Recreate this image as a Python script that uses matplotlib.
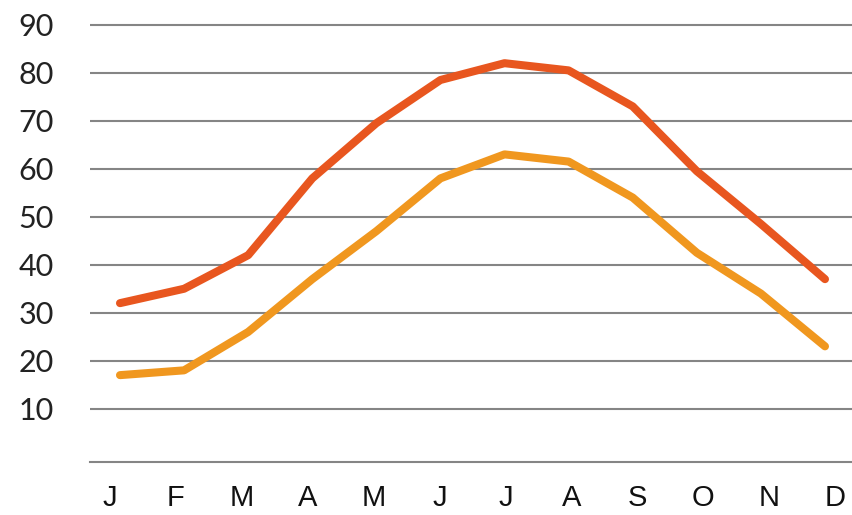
import matplotlib
matplotlib.use("Agg")
import matplotlib.pyplot as plt

months = ["J", "F", "M", "A", "M", "J", "J", "A", "S", "O", "N", "D"]
high_temps = [32, 35, 42, 58, 69.5, 78.5, 82, 80.5, 73, 59.5, 48.5, 37]
low_temps = [17, 18, 26, 37, 47, 58, 63, 61.5, 54, 42.5, 34, 23]
y_ticks = [10, 20, 30, 40, 50, 60, 70, 80, 90]

red = "#E8561F"
orange = "#F0971F"
grid_grey = "#858585"

fig = plt.figure(figsize=(8.53, 5.15), dpi=100)
ax = fig.add_axes([90 / 853, 53 / 515, 1 - 90 / 853, 442 / 515])

x = list(range(len(months)))
ax.plot(x, high_temps, color=red, lw=5.8, solid_capstyle="round", solid_joinstyle="round", zorder=3)
ax.plot(x, low_temps, color=orange, lw=5.8, solid_capstyle="round", solid_joinstyle="round", zorder=3)

ax.set_xlim(-0.468, 11.437)
ax.set_ylim(-1.1, 91.0)
ax.set_yticks(y_ticks)
ax.set_yticklabels([str(v) for v in y_ticks], fontsize=22, family="Lato", color="#222222")
ax.tick_params(axis="y", length=0, pad=26)
ax.grid(axis="y", color=grid_grey, lw=1.5)
ax.set_xticks([])
for s in ["top", "right", "left"]:
    ax.spines[s].set_visible(False)
ax.spines["bottom"].set_color(grid_grey)
ax.spines["bottom"].set_linewidth(1.5)

# month labels sit on a slightly wider spacing than the data points
ax2 = ax.twiny()
ax2.set_xlim(-0.303, 11.273)
ax2.xaxis.tick_bottom()
ax2.set_xticks(x)
ax2.set_xticklabels(months, fontsize=21, family="Liberation Sans", color="#111111")
ax2.tick_params(axis="x", length=0, pad=16)
for s in ax2.spines.values():
    s.set_visible(False)

fig.savefig("out.png", dpi=100)
